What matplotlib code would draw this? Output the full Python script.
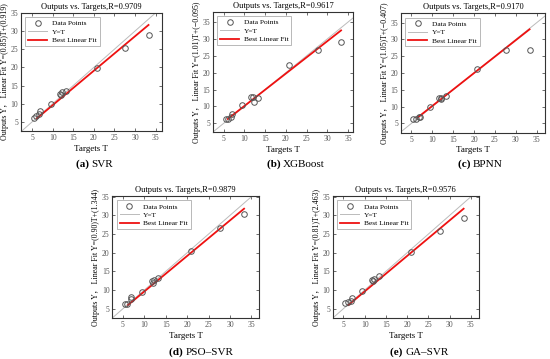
import matplotlib.pyplot as plt

plt.rcParams['font.family'] = ['Liberation Serif', 'Noto Sans CJK SC', 'DejaVu Serif']

# targets shared by every model
targets = [5.5, 6.0, 6.8, 7.0, 9.5, 11.7, 12.0, 12.2, 13.3, 20.8, 27.7, 33.3]

svr = [6.2, 6.5, 7.2, 8.0, 9.9, 12.7, 12.3, 13.2, 13.6, 19.9, 25.4, 29.0]
xgb = [6.3, 6.2, 7.0, 7.8, 10.3, 12.9, 12.7, 11.3, 12.5, 22.3, 26.8, 29.1]
bpnn = [6.2, 6.2, 7.0, 7.0, 9.8, 12.5, 12.3, 12.5, 13.3, 21.3, 26.9, 27.0]
pso_svr = [6.2, 6.4, 7.5, 8.1, 9.6, 12.3, 11.9, 12.7, 13.3, 20.6, 26.5, 30.4]
ga_svr = [6.6, 6.7, 7.2, 8.0, 9.7, 12.7, 12.3, 13.1, 13.7, 20.1, 25.7, 29.4]

# fitted line as drawn (slope, intercept) and its start
fit_slope = [0.948, 0.96, 0.98, 0.952, 0.952]
fit_icpt = [0.12, 0.54, 0.4, 0.1, 0.1]
fit_start = [6.2, 6.0, 6.5, 6.2, 6.2]

r_values = ['0.9709', '0.9617', '0.9170', '0.9879', '0.9576']
fit_labels = ['Y=(0.85)T+(0.919)', 'Y=(1.01)T+(\u22120.095)', 'Y=(1.05)T+(\u22120.407)',
              'Y=(0.90)T+(1.344)', 'Y=(0.81)T+(2.463)']
letters = ['(a)', '(b)', '(c)', '(d)', '(e)']
names = ['SVR', 'XGBoost', 'BPNN', 'PSO\u2013SVR', 'GA\u2013SVR']
outputs = [svr, xgb, bpnn, pso_svr, ga_svr]

fig = plt.figure(figsize=(5.5, 3.59), dpi=100)

# [left, bottom, width, height]
boxes = [[0.038, 0.635, 0.256, 0.329],
         [0.387, 0.632, 0.255, 0.335],
         [0.729, 0.63, 0.262, 0.333],
         [0.204, 0.114, 0.267, 0.34],
         [0.605, 0.114, 0.265, 0.34]]
xlims = [(2.3, 36.5), (2.4, 36.2), (2.5, 37), (2.5, 36.8), (2.5, 36.8)]
ylims = [(2.5, 35), (2.4, 38), (2.2, 37.8), (2.5, 35.2), (2.5, 35.2)]

grey = '#555555'
for i in range(5):
    ax = fig.add_axes(boxes[i])
    x0, x1 = xlims[i]
    y0, y1 = ylims[i]
    ax.plot(targets, outputs[i], 'o', mfc='none', mec='#555555', ms=4, mew=0.7,
            label='Data Points', zorder=3)
    top = max(x1, y1)
    ax.plot([min(x0, y0), top], [min(x0, y0), top], color='#bbbbbb', lw=0.7, label='Y=T')
    xs = [fit_start[i], max(targets)]
    ax.plot(xs, [fit_slope[i] * v + fit_icpt[i] for v in xs], color='#ee1111', lw=1.3,
            label='Best Linear Fit')
    ax.set_xlim(x0, x1)
    ax.set_ylim(y0, y1)
    ax.set_xticks(range(5, 40, 5))
    ax.set_yticks(range(5, 40, 5))
    ax.tick_params(direction='in', length=2, width=0.6, labelsize=5.5, labelcolor=grey,
                   top=True, right=True, pad=2, color=grey)
    for s in ax.spines.values():
        s.set_linewidth(0.8)
        s.set_color('#333333')
    ax.set_title('Outputs vs. Targets,R=' + r_values[i], fontsize=6, pad=3)
    ax.set_xlabel('Targets T', fontsize=6.5, labelpad=2)
    ax.set_ylabel('Outputs Y\uff0c Linear Fit ' + fit_labels[i], fontsize=5.7, labelpad=1)
    leg = ax.legend(loc='upper left', fontsize=5.3, frameon=True, fancybox=False,
                    borderpad=0.4, labelspacing=0.3, handlelength=2.6, handletextpad=0.6,
                    borderaxespad=0.6, edgecolor='#999999')
    leg.get_frame().set_linewidth(0.6)
    cx = boxes[i][0] + boxes[i][2] / 2
    cy = 0.535 if i < 3 else 0.012
    fig.text(cx, cy, letters[i] + ' ', fontsize=8, fontweight='bold', ha='right')
    fig.text(cx, cy, names[i], fontsize=8, ha='left')

fig.savefig('out.png', dpi=100)
